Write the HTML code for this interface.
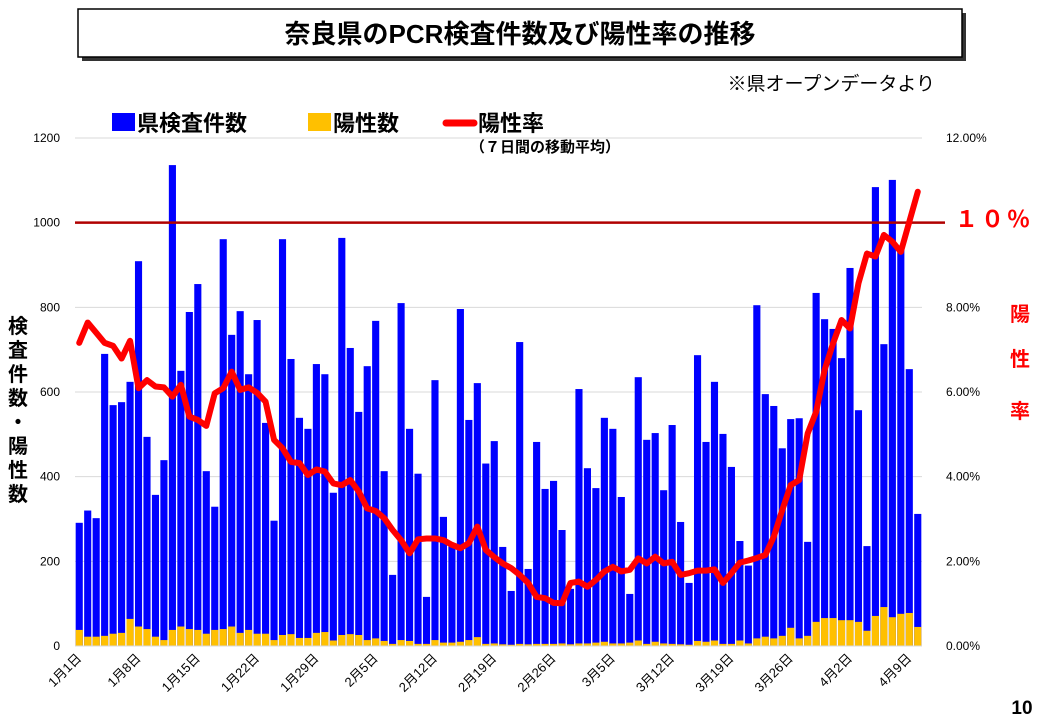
<!DOCTYPE html>
<html><head><meta charset="utf-8">
<style>
body{margin:0;background:#fff;width:1040px;height:720px;overflow:hidden;font-family:"Liberation Sans","Noto Sans CJK JP",sans-serif;}
svg text{font-family:"Liberation Sans","Noto Sans CJK JP",sans-serif;}
</style></head>
<body>
<svg id="chart" width="1040" height="720">
  <rect x="82" y="13" width="884" height="48" fill="#333"/>
  <rect x="78" y="9" width="884" height="48" fill="#fff" stroke="#000" stroke-width="1.5"/>
  <text x="520" y="43" text-anchor="middle" font-size="26" font-weight="bold">奈良県のPCR検査件数及び陽性率の推移</text>
  <text x="935" y="90" text-anchor="end" font-size="19">※県オープンデータより</text>
  <rect x="112" y="113" width="23" height="18" fill="#0000ff"/>
  <text x="137" y="131" font-size="22" font-weight="bold">県検査件数</text>
  <rect x="308" y="113" width="23" height="18" fill="#ffc000"/>
  <text x="333" y="131" font-size="22" font-weight="bold">陽性数</text>
  <line x1="446" y1="123" x2="474" y2="123" stroke="#ff0000" stroke-width="7" stroke-linecap="round"/>
  <text x="478" y="131" font-size="22" font-weight="bold">陽性率</text>
  <text x="470" y="152" font-size="15" font-weight="bold">（７日間の移動平均）</text>
  <g id="grid"></g><g id="bars"></g><g id="line"></g><g id="axes"></g>
  <text x="955" y="227" font-size="23" font-weight="bold" fill="#ff0000" letter-spacing="3">１０％</text>
  <g font-size="20" font-weight="bold">
    <text x="18" y="333" text-anchor="middle">検</text><text x="18" y="357" text-anchor="middle">査</text>
    <text x="18" y="381" text-anchor="middle">件</text><text x="18" y="405" text-anchor="middle">数</text>
    <text x="18" y="429" text-anchor="middle">・</text><text x="18" y="453" text-anchor="middle">陽</text>
    <text x="18" y="477" text-anchor="middle">性</text><text x="18" y="501" text-anchor="middle">数</text>
  </g>
  <g font-size="20" font-weight="bold" fill="#ff0000">
    <text x="1020" y="321" text-anchor="middle">陽</text><text x="1020" y="366" text-anchor="middle">性</text><text x="1020" y="418" text-anchor="middle">率</text>
  </g>
  <text x="1022" y="714" text-anchor="middle" font-size="19" font-weight="bold">10</text>
</svg>
<script>
const tests=[291,320,302,690,569,576,624,909,494,357,439,1136,650,789,855,413,329,961,735,791,642,770,527,296,961,678,539,513,666,642,362,964,704,553,661,768,413,168,810,513,407,116,628,305,235,796,534,621,431,484,234,130,718,182,482,371,390,274,135,607,420,373,539,513,352,123,635,487,503,368,522,293,149,687,482,624,501,423,248,190,805,595,567,467,536,538,246,834,772,749,680,893,557,236,1084,713,1101,935,654,312];
const positives=[38,22,22,24,29,31,64,46,40,22,14,38,46,40,38,29,38,40,46,31,38,29,29,14,26,28,19,19,31,33,13,26,28,26,14,18,12,5,14,12,5,5,14,8,8,10,14,21,5,6,4,3,5,4,5,5,5,6,4,6,6,8,10,6,6,8,13,5,10,6,5,4,3,12,10,13,5,5,13,6,18,22,18,24,43,18,24,57,66,66,61,61,57,36,71,92,68,76,78,45];
const rates=[7.16,7.64,7.40,7.16,7.09,6.79,7.21,6.09,6.28,6.13,6.11,5.89,6.17,5.42,5.34,5.20,5.97,6.09,6.48,6.05,6.11,5.98,5.77,4.87,4.67,4.35,4.32,4.04,4.17,4.12,3.84,3.80,3.92,3.65,3.25,3.19,3.02,2.74,2.50,2.19,2.52,2.54,2.54,2.50,2.39,2.31,2.43,2.82,2.27,2.10,1.95,1.84,1.68,1.49,1.16,1.13,1.02,1.01,1.49,1.52,1.40,1.56,1.76,1.87,1.76,1.80,2.07,1.95,2.11,1.95,1.99,1.68,1.72,1.78,1.78,1.81,1.49,1.72,1.97,2.02,2.08,2.15,2.58,3.21,3.80,3.92,5.02,5.53,6.52,7.15,7.70,7.50,8.57,9.27,9.20,9.71,9.55,9.31,10.02,10.73];
const leftTicks=[0,200,400,600,800,1000,1200];
const rightTicks=["0.00%","2.00%","4.00%","6.00%","8.00%","","12.00%"];
const dateLabels=["1月1日","1月8日","1月15日","1月22日","1月29日","2月5日","2月12日","2月19日","2月26日","3月5日","3月12日","3月19日","3月26日","4月2日","4月9日"];
const threshold=10;

const NS="http://www.w3.org/2000/svg";
const X0=75,X1=922,Y0=646,Y1=138;
const n=tests.length, bw=(X1-X0)/n;
const xC=i=>X0+bw*(i+0.5);
const yL=v=>Y0-(v/1200)*(Y0-Y1);
const yR=v=>Y0-(v/12)*(Y0-Y1);
function mk(tag,attrs,parent){const e=document.createElementNS(NS,tag);for(const k in attrs)e.setAttribute(k,attrs[k]);parent.appendChild(e);return e;}
const grid=document.getElementById('grid'),bars=document.getElementById('bars'),lineG=document.getElementById('line'),axes=document.getElementById('axes');

leftTicks.forEach((t,i)=>{
  const y=yL(t);
  if(t>0){const g=mk('line',{x1:X0,x2:X1,y1:y,y2:y,stroke:'#d9d9d9','stroke-width':1},grid);
  
  }
  const tl=mk('text',{x:60,y:y+4,'text-anchor':'end','font-size':12},axes);tl.textContent=t;
  
  
  const tr=mk('text',{x:946,y:yR(i*2)+4,'font-size':12},axes);tr.textContent=rightTicks[i];
  
  
});
const base=mk('line',{x1:X0,x2:X1,y1:Y0,y2:Y0,stroke:'#d9d9d9','stroke-width':1},axes);



for(let i=0;i<n;i++){
  const x=xC(i)-bw*0.42,w=bw*0.84;
  const b=mk('rect',{x:x,y:yL(tests[i]),width:w,height:Y0-yL(tests[i]),fill:'#0000ff'},bars);
  
  
  const p=mk('rect',{x:x,y:yL(positives[i]),width:w,height:Y0-yL(positives[i]),fill:'#ffc000'},bars);
  
  
}
dateLabels.forEach((d,k)=>{
  const x=xC(k*7)+3,y=Y0+13;
  const t=mk('text',{x:x,y:y,'text-anchor':'end','font-size':13,transform:`rotate(-45 ${x} ${y})`},axes);t.textContent=d;
  
  
});
const th=mk('line',{x1:X0,x2:945,y1:yR(threshold),y2:yR(threshold),stroke:'#b00000','stroke-width':2.5},lineG);


const pts=rates.map((r,i)=>xC(i)+','+yR(r)).join(' ');
const pl=mk('polyline',{points:pts,fill:'none',stroke:'#ff0000','stroke-width':6,'stroke-linejoin':'round','stroke-linecap':'round'},lineG);


</script>
</body></html>
